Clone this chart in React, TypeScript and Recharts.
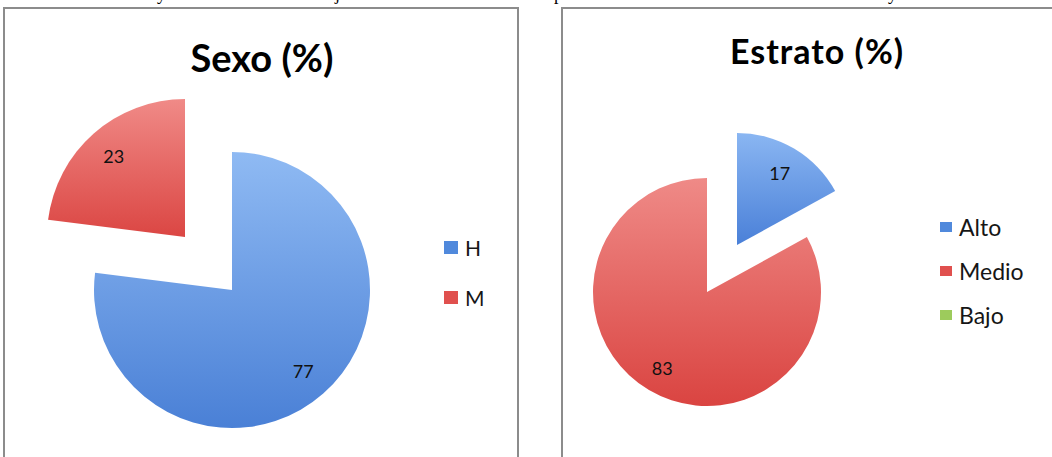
import React from 'react';
import { PieChart, Pie, Cell, Legend } from 'recharts';

// ---- data ----
const sexoCategories = ['H', 'M'];
const sexoValues = [77, 23];
const sexoExploded = 1; // M slice pulled out

const estratoCategories = ['Alto', 'Medio', 'Bajo'];
const estratoValues = [17, 83, 0];
const estratoExploded = 0; // Alto slice pulled out

const sexoTitle = 'Sexo (%)';
const estratoTitle = 'Estrato (%)';

// ---- styles ----
const FONT = 'Lato, "Open Sans", sans-serif';
const sexoFills = ['url(#gBlue)', 'url(#gRed)'];
const sexoLegendColors = ['#5089dc', '#e0504e'];
const estratoFills = ['url(#gBlue2)', 'url(#gRed2)', 'url(#gGreen2)'];
const estratoLegendColors = ['#5089dc', '#e0504e', '#9dcb5c'];

const RADIAN = Math.PI / 180;

const makeLabel = (visibleIndex: (i: number) => boolean, factor: number) => (props: any) => {
  const { cx, cy, midAngle, outerRadius, index, value } = props;
  if (!visibleIndex(index) || !value) return null;
  const r = outerRadius * factor;
  const x = cx + r * Math.cos(-midAngle * RADIAN);
  const y = cy + r * Math.sin(-midAngle * RADIAN);
  return (
    <text x={x} y={y} textAnchor="middle" dominantBaseline="central" fontFamily={FONT} fontSize={18} fill="#111">
      {value}
    </text>
  );
};

const makeLegend = (cats: string[], colors: string[], rowH: number, sqW: number, sqH: number, fontSize: number) => () => (
  <div style={{ fontFamily: FONT }}>
    {cats.map((c, i) => (
      <div key={c} style={{ display: 'flex', alignItems: 'center', height: rowH }}>
        <span style={{ display: 'inline-block', width: sqW, height: sqH, background: colors[i] }} />
        <span style={{ marginLeft: 7, fontSize, color: '#161616', lineHeight: 1 }}>{c}</span>
      </div>
    ))}
  </div>
);

const Gradients = () => (
  <defs>
    <linearGradient id="gBlue" x1="0" y1="0" x2="0" y2="1">
      <stop offset="0%" stopColor="#8fbaf3" />
      <stop offset="100%" stopColor="#4a80d6" />
    </linearGradient>
    <linearGradient id="gRed" x1="0" y1="0" x2="0" y2="1">
      <stop offset="0%" stopColor="#f08a87" />
      <stop offset="100%" stopColor="#db4643" />
    </linearGradient>
    <linearGradient id="gBlue2" x1="0" y1="0" x2="0" y2="1">
      <stop offset="0%" stopColor="#8ab6f2" />
      <stop offset="100%" stopColor="#4a80d8" />
    </linearGradient>
    <linearGradient id="gRed2" x1="0" y1="0" x2="0" y2="1">
      <stop offset="0%" stopColor="#ef8a87" />
      <stop offset="100%" stopColor="#da4441" />
    </linearGradient>
    <linearGradient id="gGreen2" x1="0" y1="0" x2="0" y2="1">
      <stop offset="0%" stopColor="#b5da7c" />
      <stop offset="100%" stopColor="#8cbd48" />
    </linearGradient>
  </defs>
);

const sexoData = sexoCategories.map((name, i) => ({ name, value: sexoValues[i] }));
const estratoData = estratoCategories.map((name, i) => ({ name, value: estratoValues[i] }));

const panelStyle: React.CSSProperties = {
  position: 'absolute',
  top: 7,
  height: 470,
  border: '2px solid #8c8c8c',
  boxSizing: 'border-box',
  background: '#fff',
};

export default function App() {
  return (
    <div style={{ position: 'absolute', left: 0, top: 0, width: 1052, height: 457, overflow: 'hidden', background: '#fff' }}>
      {/* cropped line of document text above the charts */}
      <svg width={1052} height={10} style={{ position: 'absolute', left: 0, top: 0 }}>
        <g fontFamily='"Liberation Serif", "DejaVu Serif", serif' fontSize={18} fill="#000">
          <text x={157} y={0}>y</text>
          <text x={335} y={0}>j</text>
          <text x={554} y={0}>p</text>
          <text x={888} y={0}>y</text>
        </g>
      </svg>

      {/* Left panel: Sexo */}
      <div style={{ ...panelStyle, left: 3, width: 516 }}>
        <div style={{ position: 'absolute', left: 0, top: 0 }}>
          <PieChart width={512} height={456} margin={{ top: 0, right: 0, bottom: 0, left: 0 }}>
            <Gradients />
            <text x={257} y={63} textAnchor="middle" fontFamily={FONT} fontWeight={700} fontSize={38} fill="#000">
              {sexoTitle}
            </text>
            <Pie
              data={sexoData}
              dataKey="value"
              nameKey="name"
              cx={227}
              cy={281}
              outerRadius={138}
              startAngle={90}
              endAngle={-270}
              stroke="none"
              isAnimationActive={false}
              labelLine={false}
              label={makeLabel((i) => i !== sexoExploded, 0.78)}
              legendType="none"
            >
              {sexoData.map((d, i) => (
                <Cell key={d.name} fill={i === sexoExploded ? 'transparent' : sexoFills[i]} />
              ))}
            </Pie>
            <Pie
              data={sexoData}
              dataKey="value"
              nameKey="name"
              cx={180}
              cy={228}
              outerRadius={138}
              startAngle={90}
              endAngle={-270}
              stroke="none"
              isAnimationActive={false}
              labelLine={false}
              label={makeLabel((i) => i === sexoExploded, 0.78)}
              legendType="none"
            >
              {sexoData.map((d, i) => (
                <Cell key={d.name} fill={i === sexoExploded ? sexoFills[i] : 'transparent'} />
              ))}
            </Pie>
            <Legend
              layout="vertical"
              align="right"
              verticalAlign="top"
              content={makeLegend(sexoCategories, sexoLegendColors, 50, 14, 13, 21)}
              wrapperStyle={{ left: 439, top: 213, width: 70 }}
            />
          </PieChart>
        </div>
      </div>

      {/* Right panel: Estrato */}
      <div style={{ ...panelStyle, left: 561, width: 520 }}>
        <div style={{ position: 'absolute', left: 0, top: 0 }}>
          <PieChart width={516} height={456} margin={{ top: 0, right: 0, bottom: 0, left: 0 }}>
            <Gradients />
            <text x={254} y={55} textAnchor="middle" fontFamily={FONT} fontWeight={700} fontSize={34} letterSpacing={1} fill="#000">
              {estratoTitle}
            </text>
            <Pie
              data={estratoData}
              dataKey="value"
              nameKey="name"
              cx={144}
              cy={283}
              outerRadius={114}
              startAngle={90}
              endAngle={-270}
              stroke="none"
              isAnimationActive={false}
              labelLine={false}
              label={makeLabel((i) => i !== estratoExploded, 0.77)}
              legendType="none"
            >
              {estratoData.map((d, i) => (
                <Cell key={d.name} fill={i === estratoExploded ? 'transparent' : estratoFills[i]} />
              ))}
            </Pie>
            <Pie
              data={estratoData}
              dataKey="value"
              nameKey="name"
              cx={174}
              cy={236}
              outerRadius={112}
              startAngle={90}
              endAngle={-270}
              stroke="none"
              isAnimationActive={false}
              labelLine={false}
              label={makeLabel((i) => i === estratoExploded, 0.75)}
              legendType="none"
            >
              {estratoData.map((d, i) => (
                <Cell key={d.name} fill={i === estratoExploded ? estratoFills[i] : 'transparent'} />
              ))}
            </Pie>
            <Legend
              layout="vertical"
              align="right"
              verticalAlign="top"
              content={makeLegend(estratoCategories, estratoLegendColors, 44, 12, 10, 23)}
              wrapperStyle={{ left: 377, top: 196, width: 120 }}
            />
          </PieChart>
        </div>
      </div>
    </div>
  );
}
